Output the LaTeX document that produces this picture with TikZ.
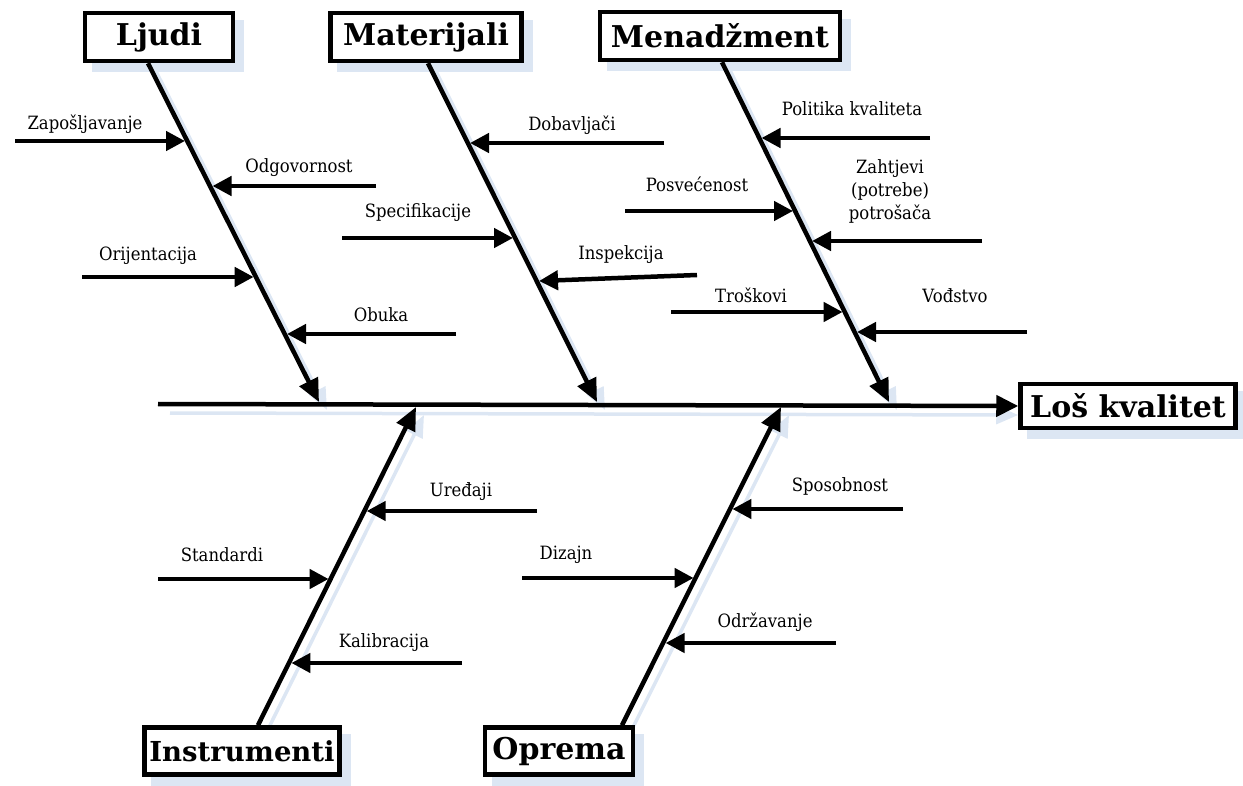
\documentclass[tikz,border=0pt]{standalone}
\usepackage{fontspec}
\setmainfont{DejaVu Serif}
\newfontfamily\lblfont[FakeStretch=0.9]{DejaVu Serif}
\usetikzlibrary{arrows.meta,calc}
\definecolor{shad}{RGB}{220,230,243}
\pgfdeclarelayer{bg}
\pgfsetlayers{bg,main}
\begin{document}
\begin{tikzpicture}[x=1pt,y=-1pt,
  cat/.style={draw, line width=4.5pt, fill=white, font=\fontsize{30}{34}\selectfont\bfseries, inner sep=0pt, minimum height=48pt},
  lbl/.style={font=\lblfont\fontsize{18.3}{23}\selectfont, anchor=base, inner sep=0pt},
  bone/.style={line width=4.5pt, -{Triangle[length=23pt,width=20pt]}},
  sub/.style={line width=4.5pt, -{Triangle[length=19pt,width=19pt]}},
  bshad/.style={line width=3.5pt, draw=shad, -{Triangle[length=22pt,width=18pt]}}]
\useasboundingbox (0,0) rectangle (1243,786);

% category boxes
\node[cat, minimum width=148pt] (L) at (159,37) {Ljudi};
\node[cat, minimum width=191pt] (M) at (426,37) {Materijali};
\node[cat, minimum width=240pt] (N) at (720,36) {Menadžment};
\node[cat, minimum width=215pt, minimum height=44pt] (Q) at (1128,406) {Loš kvalitet};
\node[cat, minimum width=195pt, minimum height=47pt, font=\fontsize{27.5}{32}\selectfont\bfseries] (I) at (242,751) {Instrumenti};
\node[cat, minimum width=148pt, minimum height=47pt] (O) at (559,751) {Oprema};

% spine and bone coordinates
\coordinate (S0) at (158,404);
\coordinate (Le) at (319,402);
\coordinate (Me) at (597,402);
\coordinate (Ne) at (889,402);
\coordinate (Ie) at (416,407);
\coordinate (Oe) at (781,407);

% shadows
\begin{pgfonlayer}{bg}
  \foreach \n in {L,M,N,Q,I,O}{
    \fill[shad] ($(\n.south west)+(9,9)$) rectangle ($(\n.north east)+(9,9)$);
  }
  \draw[bshad] ($(S0)+(12,9)$) -- ($(Q.west)+(0,9)$);
  \draw[bshad] ($([xshift=-11pt]L.south)+(8,8)$) -- ($(Le)+(8,8)$);
  \draw[bshad] ($([xshift=2pt]M.south)+(8,8)$) -- ($(Me)+(8,8)$);
  \draw[bshad] ($([xshift=2pt]N.south)+(8,8)$) -- ($(Ne)+(8,8)$);
  \draw[bshad] ($([xshift=16pt]I.north)+(8,8)$) -- ($(Ie)+(8,8)$);
  \draw[bshad] ($([xshift=63pt]O.north)+(8,8)$) -- ($(Oe)+(8,8)$);
\end{pgfonlayer}

% spine
\draw[line width=4.5pt, -{Triangle[length=22pt,width=21pt]}] (S0) -- (Q.west);
% bones
\draw[bone] ([xshift=-11pt]L.south) -- (Le);
\draw[bone] ([xshift=2pt]M.south) -- (Me);
\draw[bone] ([xshift=2pt]N.south) -- (Ne);
\draw[bone] ([xshift=16pt]I.north) -- (Ie);
\draw[bone] ([xshift=63pt]O.north) -- (Oe);

% Ljudi
\coordinate (a1) at (15,141);  \coordinate (t1) at (185,141);
\coordinate (a2) at (376,186); \coordinate (t2) at (212.5,186);
\coordinate (a3) at (82,277);  \coordinate (t3) at (253.7,277);
\coordinate (a4) at (456,334); \coordinate (t4) at (287,334);
\draw[sub] (a1) -- (t1); \draw[sub] (a2) -- (t2);
\draw[sub] (a3) -- (t3); \draw[sub] (a4) -- (t4);
\node[lbl] (l1) at (85,130) {Zapošljavanje};
\node[lbl] (l2) at (299,173) {Odgovornost};
\node[lbl] (l3) at (148,261) {Orijentacija};
\node[lbl] (l4) at (381,322) {Obuka};

% Materijali
\coordinate (b1) at (664,143); \coordinate (u1) at (470,143);
\coordinate (b2) at (342,238); \coordinate (u2) at (513,238);
\coordinate (b3) at (697,275); \coordinate (u3) at (539,281);
\draw[sub] (b1) -- (u1); \draw[sub] (b2) -- (u2); \draw[sub] (b3) -- (u3);
\node[lbl] (m1) at (572,131) {Dobavljači};
\node[lbl] (m2) at (418,218) {Specifikacije};
\node[lbl] (m3) at (621,260) {Inspekcija};

% Menadzment
\coordinate (c1) at (930,138);  \coordinate (v1) at (761.5,138);
\coordinate (c2) at (625,211);  \coordinate (v2) at (793,211);
\coordinate (c3) at (982,241);  \coordinate (v3) at (812,241);
\coordinate (c4) at (671,312);  \coordinate (v4) at (842.6,312);
\coordinate (c5) at (1027,332); \coordinate (v5) at (857,332);
\draw[sub] (c1) -- (v1); \draw[sub] (c2) -- (v2); \draw[sub] (c3) -- (v3);
\draw[sub] (c4) -- (v4); \draw[sub] (c5) -- (v5);
\node[lbl] (n1) at (852,116) {Politika kvaliteta};
\node[lbl] (n2) at (697,192) {Posvećenost};
\node[font=\lblfont\fontsize{18.3}{23}\selectfont, align=center, inner sep=0pt] (n3) at (890,191) {Zahtjevi\\(potrebe)\\potrošača};
\node[lbl] (n4) at (751,303) {Troškovi};
\node[lbl] (n5) at (955,303) {Vođstvo};

% Instrumenti
\coordinate (d1) at (537,511); \coordinate (w1) at (366.7,511);
\coordinate (d2) at (158,579); \coordinate (w2) at (328.6,579);
\coordinate (d3) at (462,663); \coordinate (w3) at (291.4,663);
\draw[sub] (d1) -- (w1); \draw[sub] (d2) -- (w2); \draw[sub] (d3) -- (w3);
\node[lbl] (i1) at (461,496) {Uređaji};
\node[lbl] (i2) at (222,561) {Standardi};
\node[lbl] (i3) at (384,647) {Kalibracija};

% Oprema
\coordinate (e1) at (903,509); \coordinate (z1) at (732.4,509);
\coordinate (e2) at (522,578); \coordinate (z2) at (693.6,578);
\coordinate (e3) at (836,643); \coordinate (z3) at (665.6,643);
\draw[sub] (e1) -- (z1); \draw[sub] (e2) -- (z2); \draw[sub] (e3) -- (z3);
\node[lbl] (o1) at (840,491) {Sposobnost};
\node[lbl] (o2) at (566,559) {Dizajn};
\node[lbl] (o3) at (765,627) {Održavanje};
\end{tikzpicture}
\end{document}
